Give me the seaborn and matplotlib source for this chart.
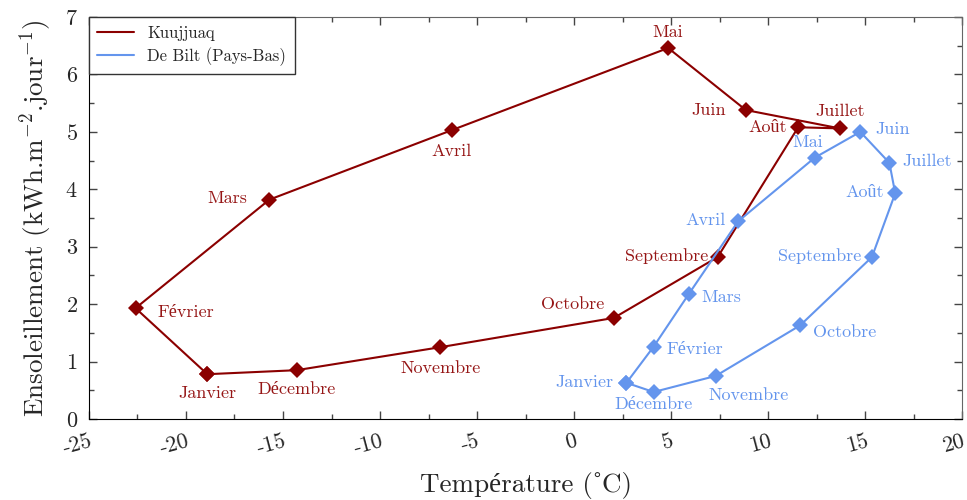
import pandas as pd
import matplotlib.pyplot as plt
import seaborn as sns
from matplotlib.lines import Line2D

# Monthly data
months = ["Janvier", "Février", "Mars", "Avril", "Mai", "Juin",
          "Juillet", "Août", "Septembre", "Octobre", "Novembre", "Décembre"]

kuu_temp = [-18.9, -22.6, -15.7, -6.3, 4.85, 8.85, 13.7, 11.55, 7.4, 2.05, -6.9, -14.3]
kuu_sun = [0.78, 1.93, 3.82, 5.03, 6.46, 5.38, 5.06, 5.08, 2.82, 1.76, 1.25, 0.85]

bilt_temp = [2.7, 4.1, 5.9, 8.45, 12.4, 14.75, 16.25, 16.55, 15.35, 11.65, 7.3, 4.1]
bilt_sun = [0.63, 1.26, 2.17, 3.44, 4.55, 5.0, 4.46, 3.93, 2.82, 1.63, 0.75, 0.47]

sites = ["Kuujjuaq", "De Bilt (Pays-Bas)"]
colors = ["#8B0000", "#6495ED"]
label_colors = ["#961616", "#6495ED"]

# label placement (offset in points, horizontal alignment)
kuu_offsets = [((0, -14), "center"), ((16, -3), "left"), ((-16, 1), "right"),
               ((0, -15), "center"), ((0, 11), "center"), ((-14, 0), "right"),
               ((0, 12), "center"), ((-8, 0), "right"), ((-7, 1), "right"),
               ((-30, 10), "center"), ((0, -15), "center"), ((0, -14), "center")]
bilt_offsets = [((-9, 0), "right"), ((9, -2), "left"), ((9, -2), "left"),
                ((-9, 1), "right"), ((-5, 11), "center"), ((11, 2), "left"),
                ((9, 1), "left"), ((-8, 1), "right"), ((-8, 1), "right"),
                ((9, -5), "left"), ((24, -14), "center"), ((0, -9), "center")]


def closed_frame(site, temp, sun):
    df = pd.DataFrame({"month": months, "temp": temp, "sun": sun})
    df = pd.concat([df, df.iloc[[0]]], ignore_index=True)
    df["site"] = site
    return df


def main():
    sns.set_style("ticks")
    plt.rcParams["font.family"] = ["cmr10", "Liberation Serif"]
    plt.rcParams["mathtext.fontset"] = "cm"
    plt.rcParams["axes.unicode_minus"] = False
    plt.rcParams["axes.formatter.use_mathtext"] = True

    df = pd.concat([closed_frame(sites[0], kuu_temp, kuu_sun),
                    closed_frame(sites[1], bilt_temp, bilt_sun)], ignore_index=True)

    fig = plt.figure(figsize=(9.67, 5.0), dpi=100)
    ax = fig.add_axes([0.092, 0.162, 0.903, 0.804])

    sns.lineplot(data=df, x="temp", y="sun", hue="site", units="site", sort=False,
                 estimator=None, palette=dict(zip(sites, colors)), marker="D",
                 markersize=8, markeredgewidth=0, linewidth=1.5, ax=ax, legend=False)

    for temp, sun, offs, col in [(kuu_temp, kuu_sun, kuu_offsets, label_colors[0]),
                                 (bilt_temp, bilt_sun, bilt_offsets, label_colors[1])]:
        for m, x, y, (o, ha) in zip(months, temp, sun, offs):
            ax.annotate(m, (x, y), xytext=o, textcoords="offset points",
                        ha=ha, va="center", color=col, fontsize=13)

    ax.set_xlim(-25, 20)
    ax.set_ylim(0, 7)
    ax.set_xticks(range(-25, 21, 5))
    ax.set_xticks([v + 2.5 for v in range(-25, 20, 5)], minor=True)
    ax.set_yticks(range(0, 8))
    ax.set_yticks([v + 0.5 for v in range(0, 7)], minor=True)
    ax.set_xticklabels([str(v) for v in range(-25, 21, 5)], rotation=15,
                       ha="right", rotation_mode="anchor")
    ax.tick_params(which="both", direction="in", top=True, right=True,
                   color="#444444", labelsize=16)
    ax.tick_params(which="major", length=6, width=1)
    ax.tick_params(which="minor", length=3.5, width=1)
    ax.tick_params(axis="x", which="major", pad=9)
    ax.tick_params(axis="y", which="major", pad=8)
    for side in ["top", "right"]:
        ax.spines[side].set_color("#666666")
    for side in ["left", "bottom"]:
        ax.spines[side].set_color("black")

    # ring above (U+02DA) is missing from cmr10, so it falls back cleanly
    ax.set_xlabel("Température (\u02daC)", fontsize=19.5, labelpad=10)
    ax.set_ylabel("Ensoleillement (kWh.m$^{\\mathrm{-2}}$.jour$^{\\mathrm{-1}}$)",
                  fontsize=19.5, labelpad=8)

    handles = [Line2D([], [], color=c, linewidth=1.5) for c in colors]
    leg = ax.legend(handles, sites, loc="upper left", fontsize=12, fancybox=False,
                    framealpha=1, edgecolor="#333333", borderaxespad=0,
                    handlelength=2.2, borderpad=0.5, labelspacing=0.4)
    leg.get_frame().set_linewidth(1)

    fig.savefig("out.png", dpi=100)


if __name__ == "__main__":
    main()
